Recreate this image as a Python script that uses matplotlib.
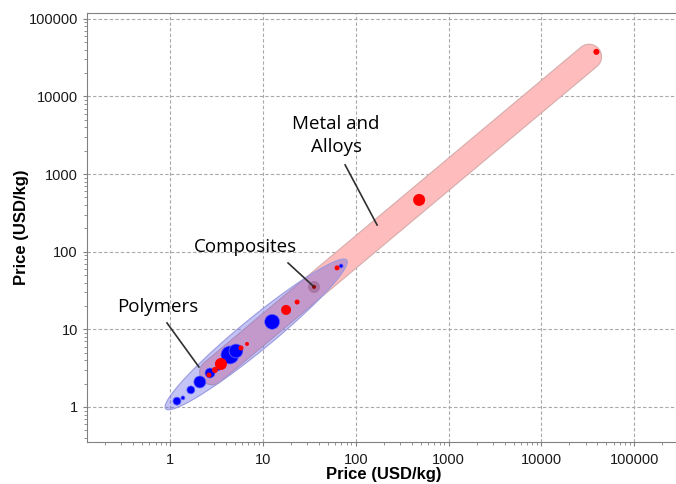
import numpy as np
import matplotlib.pyplot as plt
from matplotlib.ticker import FixedLocator, FuncFormatter, LogLocator, NullFormatter

plt.rcParams['font.family'] = ['Liberation Sans', 'DejaVu Sans']

# bubble data: price x, price y, marker size (pt^2), colour
blue_x = [1.19, 1.38, 1.68, 2.10, 2.70, 3.29, 4.43, 5.14, 12.6, 69.6]
blue_y = [1.19, 1.31, 1.66, 2.10, 2.74, 3.09, 4.68, 5.27, 12.5, 65.6]
blue_s = [33, 8, 33, 75, 52, 8, 168, 100, 117, 8]

red_x = [2.63, 3.05, 3.54, 5.82, 6.76, 17.8, 23.4, 63.0, 482.0, 39000.0]
red_y = [2.58, 3.00, 3.58, 5.76, 6.49, 17.8, 22.5, 62.0, 465.0, 37600.0]
red_s = [13, 19, 75, 13, 8, 52, 13, 13, 75, 19]

comp_x = [35.6]
comp_y = [35.2]

tick_vals = [1, 10, 100, 1000, 10000, 100000]

fig = plt.figure(figsize=(6.76, 4.84), dpi=100)
ax = fig.add_axes([87/676, 1-442/484, 593/676, 429/484])
ax.set_xscale('log')
ax.set_yscale('log')
ax.set_xlim(0.128, 3.1e5)
ax.set_ylim(0.354, 1.19e5)

gcol = '#a8a8a8'
ax.grid(True, which='major', color=gcol, linestyle=(0, (3, 2)), linewidth=0.8)
ax.set_axisbelow(True)
for s in ['left', 'bottom', 'top']:
    ax.spines[s].set_color('#808080')
ax.spines['right'].set_visible(False)

for axis in [ax.xaxis, ax.yaxis]:
    axis.set_major_locator(FixedLocator(tick_vals))
    axis.set_major_formatter(FuncFormatter(lambda v, p: '%d' % v))
    axis.set_minor_locator(LogLocator(base=10, subs=np.arange(2, 10)))
    axis.set_minor_formatter(NullFormatter())
ax.tick_params(which='major', length=3, color='#808080', labelsize=10.5, labelcolor='#1a1a1a')
ax.tick_params(which='minor', length=2, color='#808080')
ax.tick_params(axis='x', pad=5)

ax.set_xlabel('Price (USD/kg)', fontsize=12, fontweight='bold', labelpad=0)
ax.set_ylabel('Price (USD/kg)', fontsize=12, fontweight='bold', labelpad=0)

# envelopes built in pixel space, then mapped back to data
inv = ax.transData.inverted()


def stadium(p1, p2, hw):
    a = ax.transData.transform(p1)
    b = ax.transData.transform(p2)
    ang = np.arctan2(b[1]-a[1], b[0]-a[0])
    t1 = np.linspace(ang - np.pi/2, ang + np.pi/2, 40)
    t2 = np.linspace(ang + np.pi/2, ang + 3*np.pi/2, 40)
    pts = np.vstack([np.c_[b[0]+hw*np.cos(t1), b[1]+hw*np.sin(t1)],
                     np.c_[a[0]+hw*np.cos(t2), a[1]+hw*np.sin(t2)]])
    d = inv.transform(pts)
    return d[:, 0], d[:, 1]


def ellipse(p1, p2, hw):
    a = ax.transData.transform(p1)
    b = ax.transData.transform(p2)
    c = (a + b) / 2
    L = np.hypot(*(b - a)) / 2
    ang = np.arctan2(b[1]-a[1], b[0]-a[0])
    t = np.linspace(0, 2*np.pi, 120)
    ex = L*np.cos(t)
    ey = hw*np.sin(t)
    pts = np.c_[c[0] + ex*np.cos(ang) - ey*np.sin(ang), c[1] + ex*np.sin(ang) + ey*np.cos(ang)]
    d = inv.transform(pts)
    return d[:, 0], d[:, 1]


mx, my = stadium((2.85, 2.8), (32500, 32500), 12.5)
ax.fill(mx, my, facecolor='#ffbcbc', edgecolor='#d6acac', linewidth=0.8, zorder=2)

px_, py_ = ellipse((0.9, 0.95), (80, 78), 16)
ax.fill(px_, py_, facecolor=(0.35, 0.35, 0.9, 0.36), edgecolor='#9a9ae0', linewidth=0.8, zorder=3)

cx, cy = ellipse((comp_x[0]/1.12, comp_y[0]/1.12), (comp_x[0]*1.12, comp_y[0]*1.12), 6)
ax.fill(cx, cy, facecolor=(0.55, 0.3, 0.45, 0.45), edgecolor='none', zorder=4)

ax.scatter(blue_x, blue_y, s=blue_s, color='#0000ff', edgecolor='#6a6aff', linewidth=0.5, zorder=5)
ax.scatter(red_x, red_y, s=red_s, color='#ff0000', edgecolor='none', zorder=6)
ax.scatter(comp_x, comp_y, s=8, color='#990000', edgecolor='none', zorder=6)

tfont = dict(fontsize=13.5, family='Open Sans', ha='center', va='center')
ax.text(61.5, 3150, 'Metal and\nAlloys', linespacing=1.4, **tfont)
ax.text(6.43, 115, 'Composites', **tfont)
ax.text(0.743, 19.4, 'Polymers', **tfont)
ax.plot([76.9, 170], [1315, 221], color='#303030', linewidth=1.2, zorder=7)
ax.plot([18.7, 34.7], [71.7, 36.3], color='#303030', linewidth=1.2, zorder=7)
ax.plot([0.93, 2.05], [12.1, 3.28], color='#303030', linewidth=1.2, zorder=7)

fig.savefig('out.png', dpi=100)
